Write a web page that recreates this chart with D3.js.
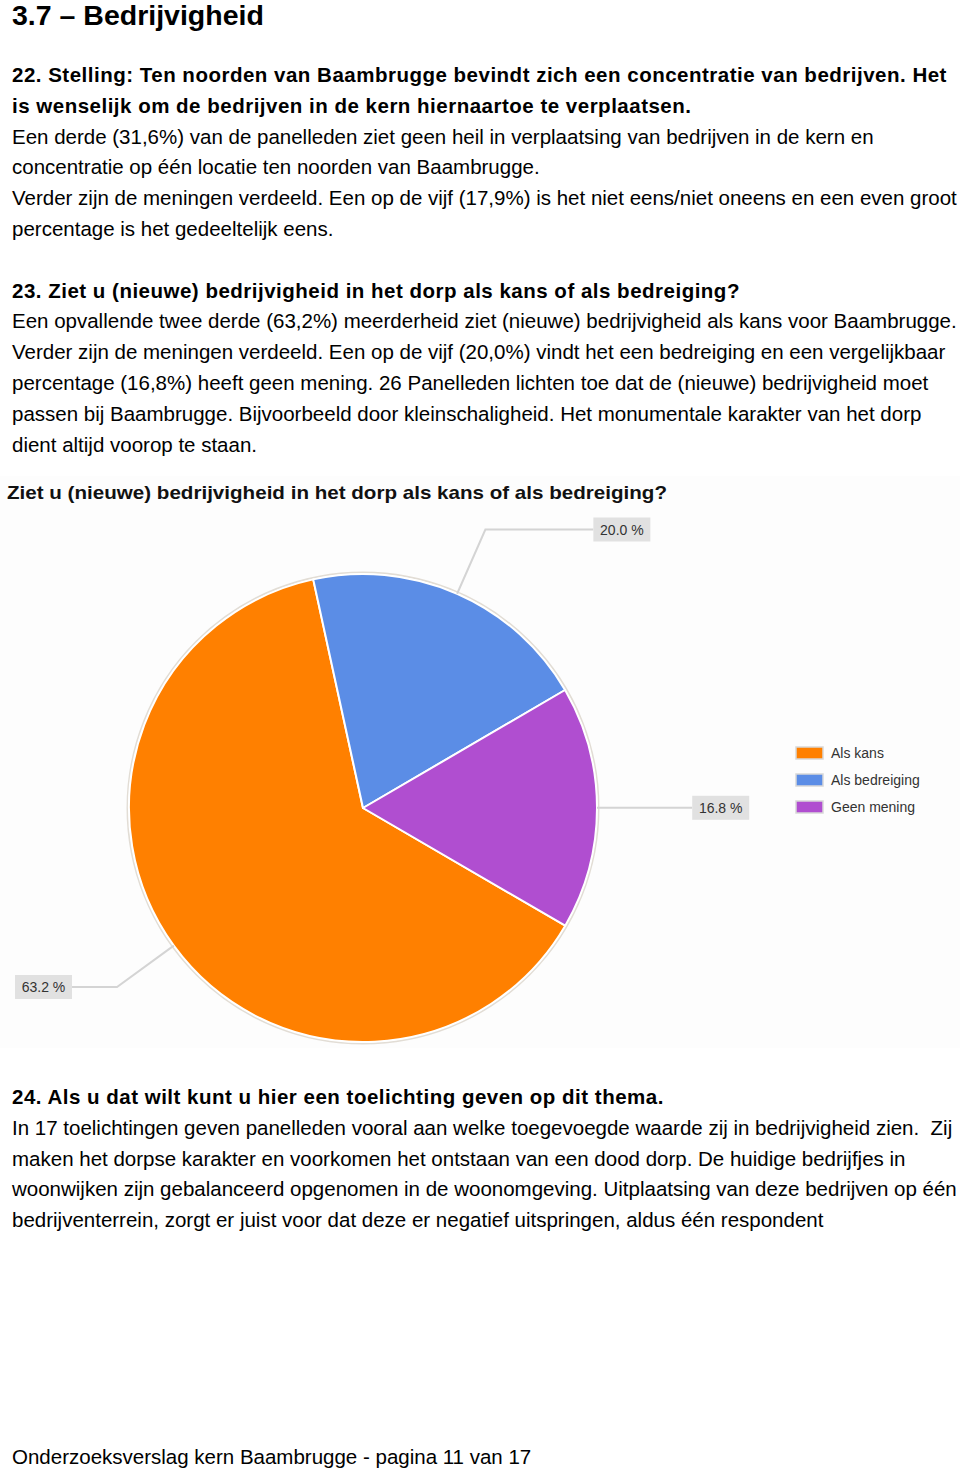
<!DOCTYPE html>
<html><head><meta charset="utf-8">
<script src="https://cdn.jsdelivr.net/npm/d3@7"></script>
<style>body{margin:0;background:#fff}svg{display:block}</style>
</head><body>
<svg id="page" width="960" height="1471"></svg>
<script>
const categories = ["Als kans", "Als bedreiging", "Geen mening"];
const values = [63.2, 20.0, 16.8];
const colors = ["#ff8000", "#5b8de6", "#b04ed0"];
const valueLabels = ["63.2 %", "20.0 %", "16.8 %"];

const heading = "3.7 \u2013 Bedrijvigheid";
const chartTitle = "Ziet u (nieuwe) bedrijvigheid in het dorp als kans of als bedreiging?";
const block1 = [
  {t:"22. Stelling: Ten noorden van Baambrugge bevindt zich een concentratie van bedrijven. Het", b:true},
  {t:"is wenselijk om de bedrijven in de kern hiernaartoe te verplaatsen.", b:true},
  {t:"Een derde (31,6%) van de panelleden ziet geen heil in verplaatsing van bedrijven in de kern en", b:false},
  {t:"concentratie op één locatie ten noorden van Baambrugge.", b:false},
  {t:"Verder zijn de meningen verdeeld. Een op de vijf (17,9%) is het niet eens/niet oneens en een even groot", b:false},
  {t:"percentage is het gedeeltelijk eens.", b:false},
  {t:"", b:false},
  {t:"23. Ziet u (nieuwe) bedrijvigheid in het dorp als kans of als bedreiging?", b:true},
  {t:"Een opvallende twee derde (63,2%) meerderheid ziet (nieuwe) bedrijvigheid als kans voor Baambrugge.", b:false},
  {t:"Verder zijn de meningen verdeeld. Een op de vijf (20,0%) vindt het een bedreiging en een vergelijkbaar", b:false},
  {t:"percentage (16,8%) heeft geen mening. 26 Panelleden lichten toe dat de (nieuwe) bedrijvigheid moet", b:false},
  {t:"passen bij Baambrugge. Bijvoorbeeld door kleinschaligheid. Het monumentale karakter van het dorp", b:false},
  {t:"dient altijd voorop te staan.", b:false}
];
const block2 = [
  {t:"24. Als u dat wilt kunt u hier een toelichting geven op dit thema.", b:true},
  {t:"In 17 toelichtingen geven panelleden vooral aan welke toegevoegde waarde zij in bedrijvigheid zien.  Zij", b:false},
  {t:"maken het dorpse karakter en voorkomen het ontstaan van een dood dorp. De huidige bedrijfjes in", b:false},
  {t:"woonwijken zijn gebalanceerd opgenomen in de woonomgeving. Uitplaatsing van deze bedrijven op één", b:false},
  {t:"bedrijventerrein, zorgt er juist voor dat deze er negatief uitspringen, aldus één respondent", b:false}
];
const footer = "Onderzoeksverslag kern Baambrugge - pagina 11 van 17";

const svg = d3.select("#page");
const font = "'Liberation Sans', Arial, Helvetica, sans-serif";

svg.append("text").attr("x", 12).attr("y", 25).attr("font-family", font)
  .attr("font-size", 28.5).attr("font-weight", "bold").attr("fill", "#000").text(heading);

function writeBlock(lines, y0) {
  svg.append("g").selectAll("text").data(lines).join("text")
    .attr("x", 12).attr("y", (d, i) => y0 + i * 30.8)
    .attr("font-family", font).attr("font-size", 20.5)
    .attr("font-weight", d => d.b ? "bold" : "normal")
    .attr("letter-spacing", d => d.b ? 0.5 : 0)
    .attr("fill", "#000").attr("xml:space", "preserve").text(d => d.t);
}
writeBlock(block1, 82);
writeBlock(block2, 1104);

svg.append("text").attr("x", 12).attr("y", 1464).attr("font-family", font)
  .attr("font-size", 20.5).attr("fill", "#000").text(footer);

// chart area
const chart = svg.append("g");
chart.append("rect").attr("x", 0).attr("y", 476).attr("width", 960).attr("height", 572).attr("fill", "#fdfdfd");
chart.append("text").attr("x", 7).attr("y", 499).attr("font-family", font)
  .attr("font-size", 19).attr("font-weight", "bold").attr("fill", "#111")
  .attr("textLength", 660).attr("lengthAdjust", "spacingAndGlyphs").text(chartTitle);

const cx = 363, cy = 808, r = 234;
const rot = 120.2 / 180 * Math.PI;
const pie = d3.pie().sort(null).value(d => d).startAngle(rot).endAngle(rot + 2 * Math.PI);
const arcs = pie(values);
const arc = d3.arc().innerRadius(0).outerRadius(r);
const pg = chart.append("g").attr("transform", `translate(${cx},${cy})`);
pg.append("circle").attr("r", r + 1.5).attr("fill", "none").attr("stroke", "#e2ddd5").attr("stroke-width", 2);
pg.selectAll("path").data(arcs).join("path")
  .attr("d", arc).attr("fill", (d, i) => colors[i])
  .attr("stroke", "#fff").attr("stroke-width", 2).attr("stroke-linejoin", "round");

// labels
const hLen = [45, 108, 25]; // horizontal leader length per slice
const boxW = 57, boxH = 24;
arcs.forEach((d, i) => {
  const a = (d.startAngle + d.endAngle) / 2;
  const p0 = [Math.sin(a) * r, -Math.cos(a) * r];
  const p1 = [Math.sin(a) * r * 1.3, -Math.cos(a) * r * 1.3];
  const dir = Math.sin(a) >= 0 ? 1 : -1;
  const p2 = [p1[0] + dir * hLen[i], p1[1]];
  pg.append("polyline").attr("points", [p0, p1, p2].map(p => p.join(",")).join(" "))
    .attr("fill", "none").attr("stroke", "#d4d4d4").attr("stroke-width", 2);
  const bx = dir > 0 ? p2[0] : p2[0] - boxW;
  pg.append("rect").attr("x", bx).attr("y", p2[1] - boxH / 2).attr("width", boxW).attr("height", boxH)
    .attr("fill", "#e1e1e1");
  pg.append("text").attr("x", bx + boxW / 2).attr("y", p2[1] + 5).attr("text-anchor", "middle")
    .attr("font-family", font).attr("font-size", 14).attr("fill", "#333").text(valueLabels[i]);
});

// legend
const lg = chart.append("g").attr("transform", "translate(796,747)");
const items = lg.selectAll("g").data(categories).join("g").attr("transform", (d, i) => `translate(0,${i * 27})`);
items.append("rect").attr("width", 27).attr("height", 12).attr("fill", (d, i) => colors[i])
  .attr("stroke", "#d8d8d8").attr("stroke-width", 1.5);
items.append("text").attr("x", 35).attr("y", 11).attr("font-family", font).attr("font-size", 14)
  .attr("fill", "#333").text(d => d);
</script>
</body></html>
